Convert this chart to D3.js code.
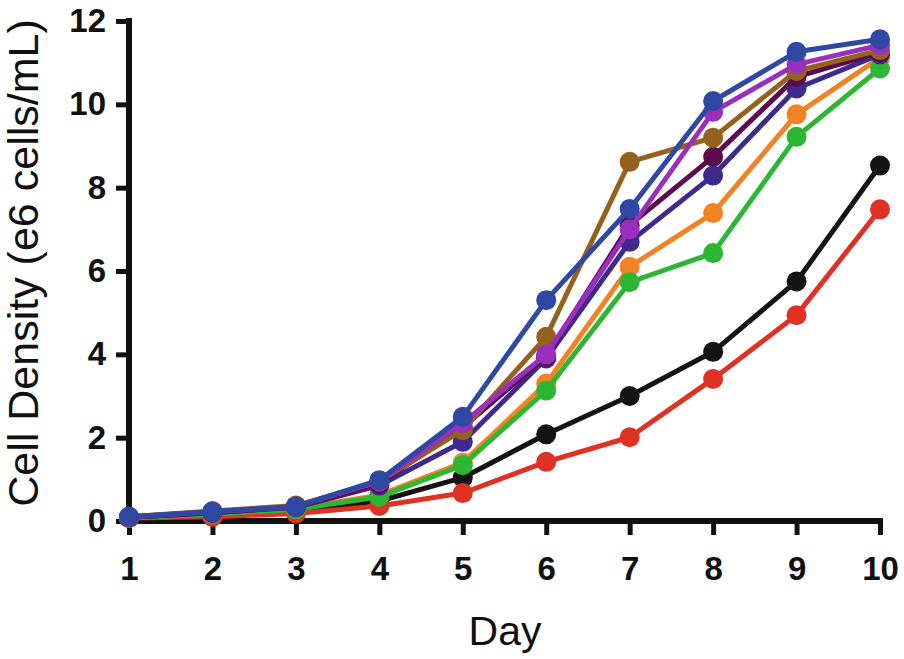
<!DOCTYPE html>
<html>
<head>
<meta charset="utf-8">
<script src="https://cdn.jsdelivr.net/npm/d3@7"></script>
<style>
  body { margin: 0; background: #fff; }
  .axis path, .axis line { stroke: #111; }
  .axis text { font-family: "Liberation Sans", Arial, sans-serif; font-weight: bold; fill: #111; }
</style>
</head>
<body>
<div id="chart"></div>
<script>
// Days on the x axis
const days = [1, 2, 3, 4, 5, 6, 7, 8, 9, 10];

// Cell density (e6 cells/mL)
const blackValues  = [0.08, 0.12, 0.25, 0.48, 1.04, 2.08, 3.00, 4.06, 5.75, 8.53];
const redValues    = [0.07, 0.10, 0.18, 0.36, 0.67, 1.42, 2.01, 3.41, 4.94, 7.48];
const greenValues  = [0.08, 0.17, 0.28, 0.58, 1.34, 3.13, 5.73, 6.43, 9.22, 10.86];
const orangeValues = [0.08, 0.17, 0.30, 0.62, 1.40, 3.30, 6.10, 7.39, 9.76, 11.12];
const indigoValues = [0.09, 0.20, 0.33, 0.85, 1.90, 3.90, 6.70, 8.29, 10.38, 11.20];
const maroonValues = [0.09, 0.20, 0.34, 0.90, 2.25, 3.95, 7.10, 8.74, 10.66, 11.25];
const brownValues  = [0.10, 0.24, 0.37, 0.95, 2.18, 4.42, 8.62, 9.20, 10.80, 11.30];
const violetValues = [0.10, 0.22, 0.35, 0.95, 2.35, 4.00, 7.00, 9.82, 10.96, 11.42];
const blueValues   = [0.10, 0.22, 0.35, 0.98, 2.50, 5.30, 7.49, 10.08, 11.26, 11.56];

const yTicks = [0, 2, 4, 6, 8, 10, 12];

// drawing order: first is at the bottom
const series = [
  { color: "#141414", values: blackValues },
  { color: "#e03224", values: redValues },
  { color: "#f28324", values: orangeValues },
  { color: "#2db534", values: greenValues },
  { color: "#3d2a8c", values: indigoValues },
  { color: "#5c0a4e", values: maroonValues },
  { color: "#95621e", values: brownValues },
  { color: "#9a2ebd", values: violetValues },
  { color: "#2f48a3", values: blueValues }
];

const width = 904, height = 659;

const svg = d3.select("#chart")
  .append("svg")
  .attr("width", width)
  .attr("height", height);

const x = d3.scaleLinear().domain([1, 10]).range([129, 880]);
const y = d3.scaleLinear().domain([0, 12]).range([521, 21]);

// y axis
svg.append("g")
  .attr("class", "axis")
  .attr("transform", `translate(${x(1)},0)`)
  .call(d3.axisLeft(y).tickValues(yTicks).tickSize(13).tickSizeOuter(0).tickPadding(10))
  .call(g => g.select(".domain").attr("stroke-width", 6).attr("d", `M0,${y(12) - 3}V${y(0) + 3}`))
  .call(g => g.selectAll(".tick line").attr("stroke-width", 5))
  .call(g => g.selectAll(".tick text").style("font-size", "33px"));

// x axis
svg.append("g")
  .attr("class", "axis")
  .attr("transform", `translate(0,${y(0)})`)
  .call(d3.axisBottom(x).tickValues(days).tickSize(14).tickSizeOuter(0).tickPadding(22))
  .call(g => g.select(".domain").attr("stroke-width", 6).attr("d", `M${x(1) - 3},0H${x(10) + 3}`))
  .call(g => g.selectAll(".tick line").attr("stroke-width", 5))
  .call(g => g.selectAll(".tick text").style("font-size", "33px"));

// axis titles
svg.append("text")
  .attr("text-anchor", "middle")
  .attr("transform", `translate(38,263) rotate(-90)`)
  .style("font-family", "Liberation Sans, Arial, sans-serif")
  .style("font-size", "43px")
  .attr("fill", "#111")
  .text("Cell Density (e6 cells/mL)");

svg.append("text")
  .attr("text-anchor", "middle")
  .attr("x", 505)
  .attr("y", 645)
  .style("font-family", "Liberation Sans, Arial, sans-serif")
  .style("font-size", "41px")
  .attr("fill", "#111")
  .text("Day");

// lines and markers
const line = d3.line()
  .x((d, i) => x(days[i]))
  .y(d => y(d));

const groups = svg.append("g")
  .selectAll("g")
  .data(series)
  .enter()
  .append("g");

groups.append("path")
  .attr("d", d => line(d.values))
  .attr("fill", "none")
  .attr("stroke", d => d.color)
  .attr("stroke-width", 5)
  .attr("stroke-linejoin", "round");

groups.selectAll("circle")
  .data(d => d.values.map((v, i) => ({ v: v, day: days[i], color: d.color })))
  .enter()
  .append("circle")
  .attr("cx", d => x(d.day))
  .attr("cy", d => y(d.v))
  .attr("r", 10)
  .attr("fill", d => d.color);
</script>
</body>
</html>
